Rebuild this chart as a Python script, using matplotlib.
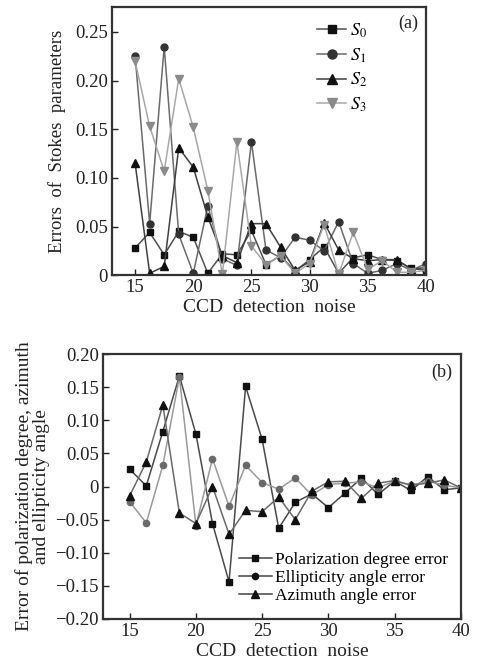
import matplotlib
matplotlib.use("Agg")
import matplotlib.pyplot as plt
from matplotlib.ticker import FuncFormatter

plt.rcParams['font.family'] = ['Liberation Serif', 'DejaVu Serif']
plt.rcParams['mathtext.fontset'] = 'stix'

# noise levels (shared x axis)
noise = [15, 16.25, 17.5, 18.75, 20, 21.25, 22.5, 23.75, 25, 26.25, 27.5,
         28.75, 30, 31.25, 32.5, 33.75, 35, 36.25, 37.5, 38.75, 40]

# (a) errors of Stokes parameters
s0 = [0.028, 0.044, 0.021, 0.045, 0.039, 0.002, 0.022, 0.021, 0.046, 0.011, 0.020,
      0.004, 0.016, 0.029, 0.002, 0.018, 0.021, 0.016, 0.015, 0.007, 0.005]
s1 = [0.225, 0.053, 0.235, 0.042, 0.002, 0.071, 0.017, 0.010, 0.137, 0.026, 0.018,
      0.039, 0.036, 0.025, 0.055, 0.012, 0.002, 0.005, 0.012, 0.005, 0.012]
s2 = [0.115, 0.002, 0.009, 0.131, 0.111, 0.060, 0.020, 0.013, 0.053, 0.053, 0.029,
      0.005, 0.014, 0.054, 0.026, 0.017, 0.015, 0.016, 0.016, 0.006, 0.008]
s3 = [0.220, 0.153, 0.107, 0.202, 0.152, 0.087, 0.001, 0.137, 0.030, 0.011, 0.020,
      0.002, 0.012, 0.052, 0.001, 0.044, 0.006, 0.015, 0.003, 0.003, 0.005]

# (b) polarization degree / ellipticity / azimuth errors
pol_err = [0.026, 0.001, 0.083, 0.167, 0.079, -0.056, -0.144, 0.151, 0.071, -0.063, -0.024,
           -0.011, -0.032, -0.010, 0.013, -0.012, 0.008, -0.006, 0.015, -0.005, -0.002]
ell_err = [-0.023, -0.055, 0.032, 0.165, -0.059, 0.042, -0.030, 0.032, 0.006, -0.004, 0.013,
           -0.013, 0.003, 0.005, 0.007, -0.002, 0.008, 0.002, 0.008, 0.002, -0.002]
azi_err = [-0.014, 0.037, 0.123, -0.040, -0.056, 0.000, -0.072, -0.036, -0.038, -0.016, -0.050,
           -0.007, 0.007, 0.008, -0.018, 0.005, 0.009, 0.002, 0.005, 0.010, -0.002]


def fmt(v, pos):
    if abs(v) < 1e-9:
        return "0"
    return ("%.2f" % v).replace("-", "\u2212")


def style_axes(ax):
    for sp in ax.spines.values():
        sp.set_linewidth(1.6)
        sp.set_color("#333333")
    ax.tick_params(direction="in", length=4, width=1, labelsize=13.5,
                   colors="#222222", pad=3)
    ax.set_xticks([15, 20, 25, 30, 35, 40])
    ax.set_xlim(13, 40)
    ax.yaxis.set_major_formatter(FuncFormatter(fmt))
    ax.set_xlabel("CCD  detection  noise", fontsize=14, color="#222222",
                  labelpad=2)


fig = plt.figure(figsize=(4.78, 6.68), dpi=100)

# ---- (a)
ax1 = fig.add_axes([0.234, 0.588, 0.657, 0.402])
ax1.plot(noise, s0, color="#505050", lw=1.1, marker="s", ms=4.5,
         mfc="#111111", mec="#111111", label="$S_0$")
ax1.plot(noise, s1, color="#6a6a6a", lw=1.1, marker="o", ms=5,
         mfc="#333333", mec="#333333", label="$S_1$")
ax1.plot(noise, s2, color="#404040", lw=1.1, marker="^", ms=5.5,
         mfc="#111111", mec="#111111", label="$S_2$")
ax1.plot(noise, s3, color="#a8a8a8", lw=1.1, marker="v", ms=5.5,
         mfc="#8a8a8a", mec="#8a8a8a", label="$S_3$")
ax1.set_ylim(0, 0.276)
ax1.set_yticks([0, 0.05, 0.10, 0.15, 0.20, 0.25])
style_axes(ax1)
ax1.set_ylabel("Errors  of  Stokes  parameters", fontsize=13.5, color="#222222",
               labelpad=6)
leg1 = ax1.legend(loc="upper left", bbox_to_anchor=(0.62, 0.985), frameon=False,
                  fontsize=13, handlelength=1.6, handletextpad=0.2,
                  labelspacing=0.35, borderaxespad=0.2, markerscale=1.3)
ax1.text(0.975, 0.97, "(a)", transform=ax1.transAxes, ha="right", va="top",
         fontsize=13, color="#222222")

# ---- (b)
ax2 = fig.add_axes([0.216, 0.0734, 0.748, 0.3966])
ax2.plot(noise, pol_err, color="#4a4a4a", lw=1.1, marker="s", ms=4.5,
         mfc="#111111", mec="#111111", label="Polarization degree error")
ax2.plot(noise, ell_err, color="#9a9a9a", lw=1.1, marker="o", ms=4.5,
         mfc="#6a6a6a", mec="#6a6a6a", label="Ellipticity angle error")
ax2.plot(noise, azi_err, color="#6a6a6a", lw=1.1, marker="^", ms=5.5,
         mfc="#111111", mec="#111111", label="Azimuth angle error")
ax2.set_ylim(-0.2, 0.2)
ax2.set_yticks([-0.20, -0.15, -0.10, -0.05, 0, 0.05, 0.10, 0.15, 0.20])
style_axes(ax2)
ax2.set_ylabel("Error of polarization degree, azimuth\nand ellipticity angle",
               fontsize=14, color="#222222", linespacing=1.0, labelpad=4)
leg = ax2.legend(loc="lower left", bbox_to_anchor=(0.36, 0.03), frameon=False,
                 fontsize=12.5, handlelength=1.9, handletextpad=0.2,
                 labelspacing=0.1, borderaxespad=0.0)
for h in leg.legend_handles:
    h.set_color("#444444")
    h.set_markerfacecolor("#111111")
    h.set_markeredgecolor("#111111")
ax2.text(0.975, 0.965, "(b)", transform=ax2.transAxes, ha="right", va="top",
         fontsize=13, color="#222222")

fig.savefig("out.png", dpi=100)
